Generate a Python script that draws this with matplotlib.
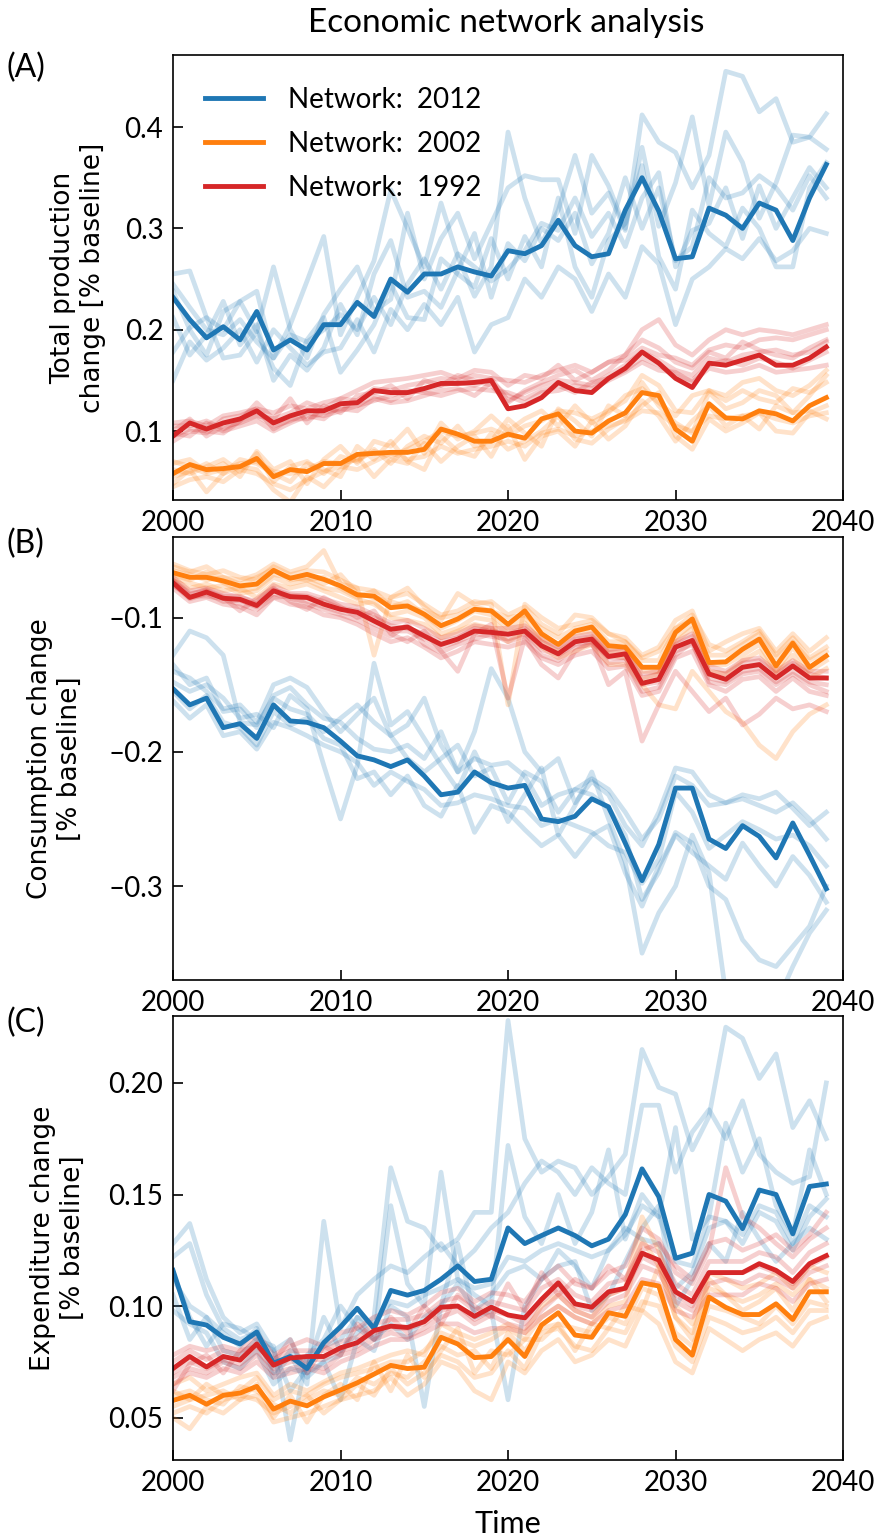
import numpy as np
import matplotlib
matplotlib.use('Agg')
import matplotlib.pyplot as plt

years = np.arange(2000, 2040)

# ---- (A) total production change ----
prod_2012_mean = [0.232,0.210,0.192,0.203,0.190,0.218,0.180,0.190,0.180,0.205,0.205,0.227,0.213,0.250,0.237,0.255,0.255,0.262,0.257,0.253,
                  0.278,0.275,0.283,0.308,0.283,0.272,0.275,0.318,0.350,0.317,0.270,0.272,0.320,0.313,0.300,0.325,0.318,0.288,0.330,0.363]
prod_2012_runs = [
    [0.255,0.258,0.212,0.200,0.228,0.238,0.172,0.205,0.248,0.292,0.195,0.232,0.268,0.338,0.300,0.262,0.325,0.272,0.233,0.262,
     0.395,0.330,0.285,0.318,0.372,0.315,0.335,0.298,0.412,0.385,0.375,0.340,0.372,0.455,0.450,0.415,0.428,0.385,0.390,0.378],
    [0.238,0.200,0.175,0.218,0.228,0.198,0.262,0.200,0.172,0.215,0.240,0.262,0.218,0.230,0.315,0.250,0.290,0.315,0.270,0.305,
     0.340,0.352,0.348,0.348,0.295,0.372,0.342,0.300,0.380,0.302,0.345,0.410,0.322,0.395,0.365,0.310,0.345,0.392,0.390,0.413],
    [0.178,0.202,0.212,0.172,0.175,0.198,0.162,0.145,0.190,0.212,0.158,0.180,0.205,0.245,0.212,0.210,0.270,0.255,0.242,0.290,
     0.250,0.292,0.262,0.330,0.262,0.232,0.288,0.305,0.362,0.272,0.240,0.318,0.295,0.282,0.320,0.300,0.262,0.262,0.340,0.365],
    [0.150,0.188,0.170,0.182,0.200,0.168,0.200,0.182,0.165,0.178,0.182,0.210,0.178,0.220,0.200,0.225,0.205,0.232,0.178,0.205,
     0.212,0.250,0.232,0.262,0.250,0.218,0.255,0.232,0.282,0.265,0.205,0.250,0.262,0.280,0.270,0.290,0.268,0.278,0.300,0.295],
    [0.212,0.175,0.195,0.228,0.185,0.205,0.150,0.175,0.160,0.182,0.225,0.195,0.255,0.288,0.232,0.238,0.222,0.258,0.295,0.232,
     0.285,0.268,0.300,0.288,0.315,0.265,0.295,0.350,0.300,0.340,0.268,0.282,0.350,0.330,0.335,0.352,0.340,0.318,0.352,0.330],
    [0.245,0.222,0.200,0.195,0.210,0.188,0.172,0.195,0.188,0.200,0.215,0.200,0.232,0.205,0.245,0.270,0.240,0.275,0.262,0.248,
     0.260,0.278,0.305,0.298,0.330,0.292,0.315,0.282,0.330,0.355,0.262,0.298,0.305,0.340,0.290,0.342,0.300,0.330,0.360,0.340],
]
prod_2002_mean = [0.058,0.067,0.062,0.063,0.065,0.073,0.055,0.062,0.060,0.068,0.068,0.077,0.078,0.079,0.079,0.082,0.102,0.097,0.090,0.090,
                  0.097,0.093,0.112,0.117,0.100,0.098,0.110,0.118,0.138,0.135,0.102,0.090,0.127,0.113,0.112,0.120,0.117,0.110,0.125,0.133]
prod_2002_runs = [
    [0.048,0.062,0.040,0.058,0.065,0.062,0.042,0.030,0.055,0.045,0.062,0.075,0.055,0.072,0.068,0.088,0.070,0.085,0.095,0.075,
     0.105,0.072,0.095,0.100,0.085,0.110,0.092,0.105,0.130,0.115,0.090,0.110,0.125,0.105,0.115,0.102,0.125,0.118,0.120,0.112],
    [0.068,0.072,0.060,0.068,0.055,0.080,0.062,0.070,0.048,0.072,0.085,0.068,0.090,0.085,0.102,0.078,0.108,0.092,0.100,0.115,
     0.100,0.112,0.120,0.105,0.125,0.108,0.118,0.135,0.142,0.128,0.115,0.135,0.140,0.130,0.140,0.132,0.128,0.142,0.138,0.148],
    [0.055,0.060,0.068,0.058,0.072,0.068,0.058,0.050,0.068,0.062,0.055,0.085,0.072,0.090,0.070,0.062,0.095,0.080,0.075,0.098,
     0.082,0.090,0.100,0.115,0.092,0.088,0.102,0.112,0.125,0.138,0.095,0.082,0.112,0.100,0.108,0.118,0.100,0.098,0.118,0.125],
    [0.062,0.058,0.065,0.072,0.060,0.078,0.050,0.065,0.070,0.058,0.075,0.070,0.082,0.068,0.085,0.095,0.088,0.105,0.085,0.090,
     0.112,0.098,0.085,0.122,0.110,0.095,0.125,0.115,0.148,0.125,0.108,0.098,0.138,0.122,0.128,0.140,0.135,0.118,0.135,0.155],
    [0.045,0.052,0.055,0.050,0.062,0.058,0.048,0.042,0.052,0.060,0.065,0.062,0.070,0.078,0.072,0.075,0.085,0.078,0.082,0.085,
     0.090,0.085,0.098,0.102,0.095,0.100,0.105,0.110,0.120,0.118,0.105,0.100,0.115,0.112,0.115,0.118,0.112,0.108,0.115,0.118],
    [0.070,0.065,0.058,0.062,0.068,0.070,0.060,0.058,0.062,0.070,0.068,0.072,0.080,0.075,0.082,0.090,0.100,0.095,0.098,0.102,
     0.095,0.105,0.110,0.120,0.118,0.112,0.120,0.130,0.155,0.145,0.120,0.118,0.140,0.135,0.148,0.152,0.140,0.135,0.145,0.160],
]
prod_1992_mean = [0.095,0.108,0.102,0.108,0.112,0.120,0.108,0.115,0.120,0.120,0.127,0.128,0.140,0.138,0.138,0.142,0.147,0.147,0.148,0.150,
                  0.122,0.125,0.133,0.148,0.140,0.138,0.152,0.162,0.178,0.167,0.152,0.143,0.167,0.165,0.170,0.175,0.165,0.165,0.172,0.183]
prod_1992_runs = [
    [0.105,0.105,0.110,0.102,0.110,0.128,0.112,0.118,0.128,0.122,0.132,0.140,0.148,0.150,0.152,0.155,0.158,0.152,0.160,0.158,
     0.145,0.155,0.152,0.165,0.150,0.158,0.168,0.170,0.182,0.175,0.172,0.165,0.180,0.185,0.182,0.190,0.192,0.190,0.195,0.200],
    [0.090,0.100,0.098,0.112,0.115,0.122,0.102,0.112,0.112,0.118,0.122,0.120,0.132,0.128,0.130,0.135,0.140,0.142,0.135,0.148,
     0.135,0.128,0.138,0.140,0.145,0.142,0.150,0.158,0.168,0.160,0.158,0.148,0.162,0.158,0.160,0.165,0.158,0.160,0.162,0.165],
    [0.100,0.112,0.095,0.105,0.108,0.115,0.112,0.132,0.108,0.125,0.118,0.135,0.138,0.145,0.132,0.150,0.145,0.155,0.150,0.145,
     0.128,0.140,0.148,0.155,0.160,0.150,0.160,0.175,0.190,0.182,0.168,0.162,0.178,0.172,0.188,0.180,0.175,0.172,0.182,0.190],
    [0.098,0.095,0.108,0.100,0.105,0.110,0.100,0.108,0.115,0.112,0.125,0.125,0.130,0.135,0.140,0.138,0.135,0.140,0.142,0.140,
     0.138,0.132,0.140,0.145,0.138,0.148,0.152,0.160,0.172,0.165,0.155,0.150,0.165,0.170,0.165,0.172,0.168,0.162,0.170,0.178],
    [0.108,0.110,0.105,0.115,0.118,0.122,0.118,0.125,0.122,0.128,0.132,0.130,0.142,0.140,0.145,0.148,0.152,0.150,0.155,0.152,
     0.150,0.148,0.155,0.160,0.165,0.158,0.168,0.175,0.200,0.210,0.185,0.175,0.190,0.200,0.195,0.200,0.198,0.195,0.200,0.205],
    [0.095,0.102,0.100,0.098,0.110,0.115,0.105,0.110,0.118,0.115,0.120,0.125,0.135,0.130,0.138,0.140,0.145,0.148,0.145,0.152,
     0.130,0.138,0.145,0.150,0.148,0.145,0.155,0.165,0.178,0.170,0.160,0.155,0.172,0.168,0.175,0.178,0.180,0.175,0.178,0.188],
]

# ---- (B) consumption change ----
cons_2012_mean = [-0.153,-0.165,-0.160,-0.182,-0.179,-0.190,-0.165,-0.177,-0.178,-0.182,-0.192,-0.203,-0.206,-0.211,-0.206,-0.218,-0.232,-0.230,-0.215,-0.223,
                  -0.227,-0.225,-0.250,-0.252,-0.248,-0.235,-0.241,-0.268,-0.296,-0.269,-0.227,-0.227,-0.265,-0.272,-0.255,-0.263,-0.279,-0.253,-0.277,-0.302]
cons_2012_runs = [
    [-0.128,-0.110,-0.115,-0.128,-0.178,-0.180,-0.160,-0.168,-0.172,-0.185,-0.175,-0.165,-0.178,-0.188,-0.180,-0.160,-0.195,-0.215,-0.185,-0.138,
     -0.160,-0.200,-0.215,-0.205,-0.238,-0.222,-0.232,-0.255,-0.270,-0.245,-0.212,-0.215,-0.232,-0.238,-0.232,-0.235,-0.230,-0.242,-0.255,-0.245],
    [-0.140,-0.145,-0.155,-0.168,-0.165,-0.178,-0.150,-0.145,-0.152,-0.170,-0.185,-0.172,-0.160,-0.188,-0.205,-0.215,-0.205,-0.195,-0.218,-0.212,
     -0.238,-0.215,-0.222,-0.245,-0.228,-0.232,-0.242,-0.262,-0.310,-0.290,-0.260,-0.268,-0.300,-0.310,-0.340,-0.355,-0.360,-0.345,-0.330,-0.300],
    [-0.148,-0.155,-0.150,-0.160,-0.175,-0.172,-0.182,-0.158,-0.168,-0.210,-0.250,-0.210,-0.134,-0.180,-0.170,-0.190,-0.210,-0.228,-0.200,-0.225,
     -0.252,-0.232,-0.212,-0.262,-0.240,-0.215,-0.250,-0.282,-0.350,-0.320,-0.300,-0.262,-0.290,-0.380,-0.395,-0.372,-0.388,-0.360,-0.335,-0.318],
    [-0.155,-0.168,-0.158,-0.178,-0.182,-0.195,-0.170,-0.180,-0.175,-0.190,-0.195,-0.220,-0.215,-0.232,-0.218,-0.240,-0.248,-0.225,-0.260,-0.240,
     -0.245,-0.258,-0.270,-0.262,-0.278,-0.262,-0.255,-0.290,-0.315,-0.285,-0.262,-0.275,-0.285,-0.295,-0.268,-0.285,-0.300,-0.278,-0.292,-0.312],
    [-0.162,-0.175,-0.165,-0.188,-0.185,-0.198,-0.178,-0.182,-0.188,-0.195,-0.200,-0.208,-0.225,-0.215,-0.222,-0.228,-0.240,-0.238,-0.232,-0.235,
     -0.240,-0.242,-0.255,-0.250,-0.255,-0.260,-0.270,-0.275,-0.298,-0.280,-0.230,-0.245,-0.272,-0.262,-0.252,-0.258,-0.265,-0.262,-0.270,-0.285],
    [-0.135,-0.150,-0.145,-0.170,-0.168,-0.182,-0.158,-0.152,-0.165,-0.175,-0.178,-0.190,-0.198,-0.200,-0.195,-0.205,-0.185,-0.215,-0.205,-0.210,
     -0.208,-0.218,-0.240,-0.232,-0.228,-0.220,-0.228,-0.245,-0.265,-0.250,-0.218,-0.225,-0.240,-0.238,-0.235,-0.240,-0.245,-0.238,-0.250,-0.265],
]
cons_2002_mean = [-0.0665,-0.070,-0.070,-0.0727,-0.0764,-0.075,-0.0648,-0.0707,-0.0678,-0.0715,-0.0764,-0.083,-0.084,-0.0926,-0.0913,-0.0975,-0.106,-0.101,-0.0938,-0.095,
                  -0.105,-0.095,-0.112,-0.120,-0.110,-0.107,-0.121,-0.122,-0.137,-0.137,-0.111,-0.101,-0.1335,-0.133,-0.1236,-0.116,-0.136,-0.119,-0.137,-0.1285]
cons_2002_runs = [
    [-0.062,-0.066,-0.062,-0.070,-0.072,-0.068,-0.060,-0.066,-0.062,-0.050,-0.075,-0.078,-0.080,-0.085,-0.078,-0.092,-0.102,-0.082,-0.090,-0.088,
     -0.098,-0.092,-0.105,-0.112,-0.098,-0.100,-0.112,-0.115,-0.128,-0.122,-0.102,-0.095,-0.125,-0.118,-0.112,-0.108,-0.125,-0.112,-0.125,-0.115],
    [-0.070,-0.074,-0.078,-0.076,-0.082,-0.080,-0.070,-0.075,-0.072,-0.078,-0.080,-0.086,-0.090,-0.098,-0.095,-0.100,-0.112,-0.108,-0.100,-0.102,
     -0.112,-0.104,-0.118,-0.125,-0.118,-0.115,-0.128,-0.130,-0.146,-0.142,-0.118,-0.108,-0.140,-0.142,-0.132,-0.125,-0.142,-0.128,-0.145,-0.138],
    [-0.060,-0.065,-0.068,-0.065,-0.070,-0.072,-0.062,-0.068,-0.065,-0.066,-0.072,-0.078,-0.128,-0.085,-0.082,-0.090,-0.098,-0.095,-0.088,-0.090,
     -0.165,-0.090,-0.100,-0.108,-0.105,-0.102,-0.112,-0.118,-0.130,-0.125,-0.108,-0.098,-0.120,-0.125,-0.118,-0.110,-0.128,-0.115,-0.130,-0.122],
    [-0.072,-0.078,-0.075,-0.080,-0.078,-0.085,-0.075,-0.078,-0.075,-0.080,-0.085,-0.090,-0.088,-0.100,-0.102,-0.105,-0.115,-0.110,-0.105,-0.108,
     -0.118,-0.110,-0.122,-0.130,-0.125,-0.120,-0.135,-0.135,-0.150,-0.165,-0.168,-0.140,-0.155,-0.170,-0.178,-0.195,-0.205,-0.185,-0.172,-0.165],
    [-0.065,-0.068,-0.072,-0.070,-0.075,-0.070,-0.064,-0.072,-0.070,-0.075,-0.068,-0.082,-0.085,-0.088,-0.092,-0.095,-0.100,-0.098,-0.092,-0.095,
     -0.100,-0.098,-0.108,-0.115,-0.108,-0.105,-0.118,-0.118,-0.132,-0.132,-0.108,-0.102,-0.128,-0.128,-0.120,-0.112,-0.130,-0.118,-0.132,-0.125],
    [-0.068,-0.072,-0.066,-0.074,-0.080,-0.078,-0.068,-0.070,-0.072,-0.070,-0.078,-0.085,-0.080,-0.092,-0.088,-0.098,-0.108,-0.102,-0.095,-0.098,
     -0.108,-0.100,-0.115,-0.120,-0.112,-0.110,-0.125,-0.125,-0.140,-0.140,-0.115,-0.105,-0.135,-0.135,-0.128,-0.120,-0.140,-0.122,-0.140,-0.132],
]
cons_1992_mean = [-0.074,-0.085,-0.081,-0.0856,-0.0864,-0.091,-0.080,-0.0844,-0.085,-0.090,-0.0938,-0.096,-0.1025,-0.1087,-0.107,-0.1137,-0.120,-0.116,-0.110,-0.111,
                  -0.1124,-0.110,-0.121,-0.127,-0.118,-0.116,-0.129,-0.127,-0.149,-0.146,-0.122,-0.117,-0.142,-0.146,-0.137,-0.135,-0.145,-0.136,-0.145,-0.145]
cons_1992_runs = [
    [-0.070,-0.080,-0.078,-0.082,-0.085,-0.088,-0.076,-0.082,-0.082,-0.086,-0.090,-0.092,-0.098,-0.104,-0.102,-0.108,-0.115,-0.112,-0.106,-0.108,
     -0.108,-0.106,-0.116,-0.122,-0.114,-0.112,-0.124,-0.122,-0.142,-0.140,-0.118,-0.112,-0.136,-0.140,-0.132,-0.130,-0.140,-0.132,-0.140,-0.140],
    [-0.078,-0.088,-0.085,-0.090,-0.092,-0.098,-0.085,-0.090,-0.092,-0.098,-0.100,-0.105,-0.112,-0.118,-0.115,-0.122,-0.130,-0.125,-0.118,-0.120,
     -0.122,-0.118,-0.130,-0.135,-0.128,-0.125,-0.138,-0.136,-0.158,-0.155,-0.130,-0.125,-0.150,-0.155,-0.146,-0.144,-0.155,-0.145,-0.155,-0.158],
    [-0.072,-0.082,-0.080,-0.085,-0.095,-0.086,-0.078,-0.088,-0.094,-0.085,-0.092,-0.100,-0.095,-0.112,-0.118,-0.110,-0.125,-0.140,-0.112,-0.105,
     -0.160,-0.115,-0.135,-0.145,-0.125,-0.118,-0.150,-0.140,-0.192,-0.165,-0.140,-0.155,-0.170,-0.160,-0.180,-0.172,-0.160,-0.168,-0.165,-0.170],
    [-0.075,-0.086,-0.082,-0.088,-0.087,-0.092,-0.082,-0.086,-0.088,-0.092,-0.096,-0.098,-0.105,-0.110,-0.110,-0.116,-0.122,-0.118,-0.112,-0.114,
     -0.116,-0.112,-0.124,-0.128,-0.120,-0.118,-0.130,-0.130,-0.150,-0.148,-0.125,-0.120,-0.145,-0.148,-0.140,-0.138,-0.148,-0.140,-0.148,-0.150],
    [-0.076,-0.084,-0.084,-0.086,-0.090,-0.094,-0.085,-0.084,-0.090,-0.094,-0.098,-0.102,-0.108,-0.114,-0.105,-0.120,-0.126,-0.120,-0.116,-0.112,
     -0.118,-0.114,-0.128,-0.132,-0.122,-0.120,-0.134,-0.132,-0.155,-0.152,-0.128,-0.118,-0.148,-0.150,-0.142,-0.140,-0.150,-0.142,-0.150,-0.155],
    [-0.073,-0.083,-0.079,-0.084,-0.084,-0.090,-0.079,-0.083,-0.084,-0.088,-0.093,-0.095,-0.100,-0.106,-0.108,-0.112,-0.118,-0.115,-0.108,-0.110,
     -0.112,-0.108,-0.118,-0.124,-0.116,-0.114,-0.126,-0.125,-0.145,-0.142,-0.120,-0.114,-0.140,-0.142,-0.134,-0.132,-0.142,-0.134,-0.142,-0.145],
]

# ---- (C) expenditure change ----
exp_2012_mean = [0.116,0.093,0.0915,0.086,0.083,0.0884,0.0744,0.0774,0.072,0.0836,0.0907,0.099,0.090,0.107,0.1049,0.107,0.112,0.118,0.111,0.112,
                 0.135,0.128,0.1316,0.135,0.1316,0.127,0.130,0.141,0.1615,0.149,0.1214,0.1237,0.150,0.147,0.1347,0.152,0.150,0.1324,0.1536,0.1547]
exp_2012_runs = [
    [0.128,0.137,0.112,0.095,0.088,0.092,0.080,0.062,0.072,0.095,0.080,0.088,0.095,0.162,0.138,0.135,0.125,0.130,0.142,0.142,
     0.228,0.175,0.160,0.165,0.162,0.150,0.158,0.168,0.215,0.198,0.195,0.170,0.185,0.225,0.220,0.202,0.213,0.180,0.192,0.175],
    [0.122,0.128,0.105,0.090,0.085,0.088,0.068,0.078,0.065,0.138,0.090,0.105,0.112,0.118,0.115,0.122,0.128,0.118,0.125,0.135,
     0.142,0.155,0.165,0.160,0.150,0.162,0.155,0.150,0.190,0.190,0.160,0.178,0.188,0.175,0.192,0.168,0.160,0.155,0.158,0.200],
    [0.105,0.085,0.095,0.080,0.078,0.085,0.082,0.040,0.078,0.085,0.100,0.090,0.085,0.145,0.110,0.100,0.160,0.112,0.105,0.100,
     0.172,0.140,0.128,0.150,0.128,0.142,0.170,0.130,0.150,0.140,0.180,0.130,0.140,0.182,0.160,0.175,0.145,0.132,0.170,0.150],
    [0.098,0.092,0.088,0.075,0.072,0.080,0.065,0.072,0.070,0.075,0.078,0.095,0.085,0.092,0.085,0.095,0.100,0.110,0.098,0.105,
     0.115,0.118,0.112,0.125,0.118,0.108,0.125,0.135,0.130,0.128,0.108,0.115,0.135,0.138,0.128,0.142,0.138,0.125,0.140,0.148],
    [0.112,0.100,0.095,0.088,0.082,0.090,0.070,0.080,0.075,0.082,0.085,0.095,0.092,0.102,0.100,0.105,0.108,0.112,0.108,0.110,
     0.122,0.120,0.125,0.128,0.125,0.122,0.125,0.132,0.145,0.140,0.120,0.118,0.140,0.138,0.132,0.145,0.142,0.128,0.145,0.140],
    [0.115,0.095,0.082,0.092,0.090,0.085,0.080,0.085,0.068,0.075,0.058,0.085,0.080,0.100,0.095,0.055,0.100,0.128,0.095,0.098,
     0.058,0.100,0.112,0.118,0.120,0.098,0.105,0.120,0.135,0.145,0.100,0.112,0.128,0.120,0.142,0.130,0.120,0.128,0.135,0.130],
]
exp_2002_mean = [0.0577,0.060,0.056,0.060,0.061,0.064,0.0538,0.0574,0.0553,0.0593,0.0624,0.0656,0.0695,0.0734,0.072,0.0726,0.086,0.083,0.0769,0.0774,
                 0.085,0.0774,0.0915,0.097,0.087,0.086,0.097,0.0954,0.1104,0.109,0.085,0.078,0.104,0.0994,0.0962,0.0962,0.101,0.094,0.1064,0.1064]
exp_2002_runs = [
    [0.050,0.045,0.055,0.052,0.058,0.060,0.048,0.050,0.052,0.055,0.058,0.060,0.062,0.068,0.060,0.065,0.075,0.072,0.062,0.058,
     0.075,0.070,0.080,0.085,0.075,0.078,0.085,0.082,0.098,0.092,0.075,0.070,0.090,0.085,0.080,0.085,0.088,0.082,0.092,0.095],
    [0.065,0.068,0.062,0.065,0.068,0.070,0.060,0.065,0.062,0.066,0.070,0.072,0.075,0.078,0.080,0.078,0.092,0.088,0.085,0.088,
     0.092,0.088,0.100,0.105,0.098,0.095,0.105,0.108,0.140,0.125,0.100,0.092,0.115,0.112,0.108,0.110,0.115,0.108,0.118,0.115],
    [0.055,0.058,0.060,0.062,0.058,0.065,0.050,0.060,0.048,0.060,0.065,0.058,0.075,0.062,0.078,0.068,0.080,0.090,0.070,0.080,
     0.078,0.085,0.085,0.092,0.080,0.092,0.090,0.100,0.098,0.118,0.095,0.085,0.112,0.105,0.098,0.102,0.108,0.098,0.112,0.102],
    [0.060,0.062,0.058,0.056,0.064,0.062,0.056,0.052,0.058,0.062,0.060,0.068,0.065,0.070,0.068,0.075,0.082,0.078,0.080,0.072,
     0.088,0.080,0.090,0.092,0.090,0.088,0.095,0.092,0.108,0.105,0.088,0.082,0.100,0.098,0.095,0.092,0.100,0.092,0.102,0.100],
    [0.052,0.055,0.052,0.058,0.060,0.058,0.052,0.055,0.060,0.052,0.058,0.065,0.060,0.072,0.065,0.070,0.078,0.075,0.068,0.070,
     0.080,0.072,0.088,0.090,0.082,0.080,0.090,0.088,0.102,0.100,0.082,0.075,0.095,0.092,0.088,0.090,0.095,0.088,0.098,0.098],
    [0.062,0.058,0.065,0.060,0.062,0.068,0.058,0.062,0.060,0.065,0.068,0.070,0.072,0.075,0.075,0.080,0.088,0.085,0.082,0.085,
     0.090,0.085,0.095,0.100,0.095,0.092,0.100,0.102,0.130,0.118,0.095,0.088,0.108,0.105,0.102,0.105,0.110,0.105,0.112,0.108],
]
exp_1992_mean = [0.072,0.0774,0.0727,0.0774,0.0758,0.083,0.0735,0.0767,0.0774,0.0774,0.0813,0.0836,0.089,0.091,0.0904,0.093,0.0995,0.100,0.0954,0.0995,
                 0.096,0.0947,0.103,0.1104,0.101,0.0995,0.1064,0.108,0.1237,0.1206,0.1064,0.102,0.115,0.115,0.115,0.119,0.116,0.111,0.119,0.1226]
exp_1992_runs = [
    [0.068,0.072,0.070,0.075,0.072,0.078,0.070,0.072,0.074,0.072,0.078,0.080,0.085,0.088,0.086,0.090,0.095,0.098,0.092,0.096,
     0.092,0.090,0.098,0.105,0.098,0.095,0.102,0.105,0.118,0.115,0.102,0.098,0.110,0.112,0.110,0.114,0.112,0.108,0.115,0.118],
    [0.078,0.082,0.080,0.082,0.080,0.088,0.078,0.082,0.085,0.082,0.088,0.090,0.095,0.098,0.096,0.100,0.106,0.108,0.102,0.106,
     0.105,0.102,0.112,0.118,0.110,0.108,0.115,0.118,0.135,0.130,0.115,0.110,0.125,0.162,0.140,0.135,0.128,0.122,0.130,0.135],
    [0.065,0.070,0.068,0.072,0.070,0.075,0.068,0.070,0.072,0.070,0.075,0.078,0.082,0.085,0.085,0.088,0.092,0.092,0.088,0.090,
     0.090,0.088,0.095,0.100,0.095,0.092,0.098,0.100,0.112,0.110,0.098,0.095,0.105,0.105,0.105,0.110,0.108,0.102,0.110,0.112],
    [0.075,0.080,0.076,0.080,0.078,0.085,0.076,0.080,0.080,0.080,0.084,0.086,0.092,0.094,0.094,0.096,0.102,0.104,0.098,0.102,
     0.100,0.098,0.108,0.112,0.105,0.102,0.110,0.112,0.128,0.124,0.110,0.105,0.120,0.120,0.120,0.124,0.122,0.115,0.124,0.128],
    [0.070,0.075,0.072,0.076,0.074,0.080,0.072,0.075,0.076,0.076,0.080,0.082,0.088,0.090,0.090,0.092,0.098,0.100,0.094,0.098,
     0.096,0.092,0.102,0.108,0.100,0.098,0.105,0.108,0.122,0.118,0.105,0.100,0.115,0.115,0.115,0.118,0.115,0.110,0.118,0.122],
    [0.062,0.074,0.078,0.070,0.080,0.082,0.075,0.085,0.070,0.082,0.078,0.092,0.085,0.095,0.088,0.100,0.092,0.105,0.100,0.095,
     0.110,0.098,0.115,0.105,0.112,0.108,0.118,0.112,0.125,0.128,0.118,0.112,0.128,0.130,0.125,0.128,0.132,0.125,0.132,0.142],
]

networks = ['2012', '2002', '1992']
colors = ['#1f77b4', '#ff7f0e', '#d62728']

panels = [
    ('(A)', 'Total production\nchange [% baseline]', (0.032, 0.471), [0.1, 0.2, 0.3, 0.4], '%.1f',
     [prod_2012_runs, prod_2002_runs, prod_1992_runs], [prod_2012_mean, prod_2002_mean, prod_1992_mean]),
    ('(B)', 'Consumption change\n[% baseline]', (-0.370, -0.040), [-0.3, -0.2, -0.1], '%.1f',
     [cons_2012_runs, cons_2002_runs, cons_1992_runs], [cons_2012_mean, cons_2002_mean, cons_1992_mean]),
    ('(C)', 'Expenditure change\n[% baseline]', (0.031, 0.230), [0.05, 0.10, 0.15, 0.20], '%.2f',
     [exp_2012_runs, exp_2002_runs, exp_1992_runs], [exp_2012_mean, exp_2002_mean, exp_1992_mean]),
]

plt.rcParams['font.family'] = ['Lato', 'DejaVu Sans']

fig = plt.figure(figsize=(8.8, 15.38), dpi=100)
# axes boxes in figure fractions (left, bottom, width, height)
boxes = [(0.1966, 0.6749, 0.7614, 0.2893),
         (0.1966, 0.3628, 0.7614, 0.2880),
         (0.1966, 0.0507, 0.7614, 0.2887)]
label_x = [-0.10, -0.135, -0.13]


def tick_fmt(fmt):
    # long minus sign like the original
    return plt.FuncFormatter(lambda v, p: (fmt % v).replace('-', '\u2013'))


for i, (tag, ylab, ylim, yticks, fmt, runs, means) in enumerate(panels):
    ax = fig.add_axes(boxes[i])
    for k in range(3):
        for r in runs[k]:
            ax.plot(years, r, color=colors[k], alpha=0.22, lw=3.4)
    for k in range(3):
        ax.plot(years, means[k], color=colors[k], lw=3.5, label='Network:  ' + networks[k])
    ax.set_xlim(2000, 2040)
    ax.set_ylim(*ylim)
    ax.set_xticks([2000, 2010, 2020, 2030, 2040])
    ax.set_yticks(yticks)
    ax.yaxis.set_major_formatter(tick_fmt(fmt))
    ax.tick_params(direction='in', length=7, width=1.2, labelsize=20, pad=7)
    for s in ax.spines.values():
        s.set_linewidth(1.2)
    ax.set_ylabel(ylab, fontsize=19, family='DejaVu Sans', linespacing=1.2)
    ax.yaxis.set_label_coords(label_x[i], 0.5)
    ax.text(-0.248, 1.0 - (0.03 if i == 0 else 0.015), tag, transform=ax.transAxes, fontsize=23,
            ha='left', va='center')
    if i == 0:
        ax.legend(loc='upper left', frameon=False, fontsize=20, handlelength=2.1,
                  borderaxespad=0.75, labelspacing=0.65, handletextpad=0.9)
    if i == 2:
        ax.set_xlabel('Time', fontsize=22, labelpad=10)

fig.text(0.575, 0.985, 'Economic network analysis', ha='center', va='center', fontsize=24)

fig.savefig('out.png', dpi=100)
